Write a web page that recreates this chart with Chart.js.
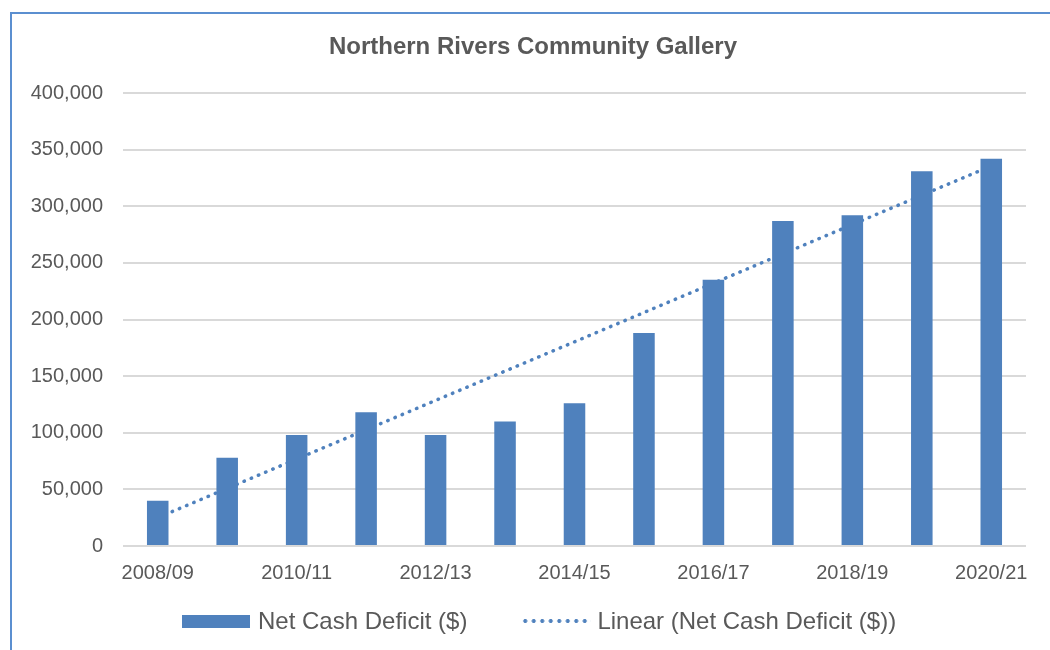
<!DOCTYPE html>
<html>
<head>
<meta charset="utf-8">
<script src="https://cdn.jsdelivr.net/npm/chart.js@4.4.1/dist/chart.umd.min.js"></script>
<style>
  html, body { margin: 0; padding: 0; background: #fff; }
  body { width: 1050px; height: 650px; position: relative; overflow: hidden; font-family: "Liberation Sans", Arial, sans-serif; }
  #marco { position: absolute; left: 10px; top: 12px; width: 1100px; height: 700px; border-left: 2px solid #5B8FD0; border-top: 2px solid #5B8FD0; }
  #wrap { position: absolute; left: 0; top: 0; width: 1050px; height: 650px; }
  #titulo { position: absolute; left: 233px; width: 600px; top: 32px; text-align: center; color: #595959; font-weight: bold; font-size: 24px; line-height: 28px; white-space: nowrap; }
  #leyenda { position: absolute; left: 182px; top: 606px; height: 30px; display: flex; align-items: center; color: #595959; font-size: 24px; white-space: nowrap; }
  .caja { display: inline-block; width: 68px; height: 13px; background: #4F81BD; margin-right: 8px; }
  .puntos { display: inline-block; width: 70px; height: 6px; margin-left: 54px; margin-right: 6px;
    background-image: radial-gradient(circle, #4F81BD 1.7px, rgba(79,129,189,0) 2.3px);
    background-size: 8.5px 6px; background-repeat: repeat-x; }
</style>
</head>
<body>
<div id="marco"></div>
<div id="wrap"><canvas id="myChart" width="1050" height="650"></canvas></div>
<div id="titulo">Northern Rivers Community Gallery</div>
<div id="leyenda">
  <span class="caja"></span><span>Net Cash Deficit ($)</span>
  <span class="puntos"></span><span>Linear (Net Cash Deficit ($))</span>
</div>
<script>
// datos
let periodos = ["2008/09", "2009/10", "2010/11", "2011/12", "2012/13", "2013/14", "2014/15",
  "2015/16", "2016/17", "2017/18", "2018/19", "2019/20", "2020/21"];
let deficit = [40000, 78000, 98000, 118000, 98000, 110000, 126000,
  188000, 235000, 287000, 292000, 331000, 342000];
// tendencia lineal: solo los extremos
let tendencia = [25000, null, null, null, null, null, null, null, null, null, null, null, 335600];

let color_barra = "#4F81BD";
let gris = "#595959";

var my_chart = document.getElementById("myChart");

var data_grafica = {
  labels: periodos,
  datasets: [
    {
      type: "bar",
      label: "Net Cash Deficit ($)",
      data: deficit,
      backgroundColor: color_barra,
      barPercentage: 0.31,
      categoryPercentage: 1,
      order: 0,
    },
    {
      type: "line",
      label: "Linear (Net Cash Deficit ($))",
      data: tendencia,
      borderColor: color_barra,
      borderWidth: 3.5,
      borderDash: [0.5, 7.3],
      borderCapStyle: "round",
      pointRadius: 0,
      spanGaps: true,
      fill: false,
      order: 1,
    },
  ],
};

var grafica = new Chart(my_chart, {
  data: data_grafica,
  options: {
    responsive: false,
    animation: false,
    layout: {
      padding: { top: 93, left: 0, right: 24, bottom: 50 },
    },
    plugins: {
      legend: { display: false },
      tooltip: { enabled: false },
      title: { display: false },
    },
    scales: {
      x: {
        grid: { display: false, drawTicks: false },
        border: { display: false },
        ticks: {
          autoSkip: false,
          maxRotation: 0,
          padding: 15,
          color: gris,
          font: { family: "Liberation Sans", size: 20 },
          callback: function (value, index) {
            return index % 2 == 0 ? this.getLabelForValue(value) : "";
          },
        },
      },
      y: {
        min: 0,
        max: 400000,
        afterFit: function (scale) {
          scale.width = 123;
        },
        grid: { color: "#D9D9D9", lineWidth: 2, drawTicks: false },
        border: { display: false },
        ticks: {
          stepSize: 50000,
          padding: 20,
          color: gris,
          font: { family: "Liberation Sans", size: 20 },
          callback: function (value) {
            return value.toLocaleString("en-US");
          },
        },
      },
    },
  },
});
</script>
</body>
</html>
